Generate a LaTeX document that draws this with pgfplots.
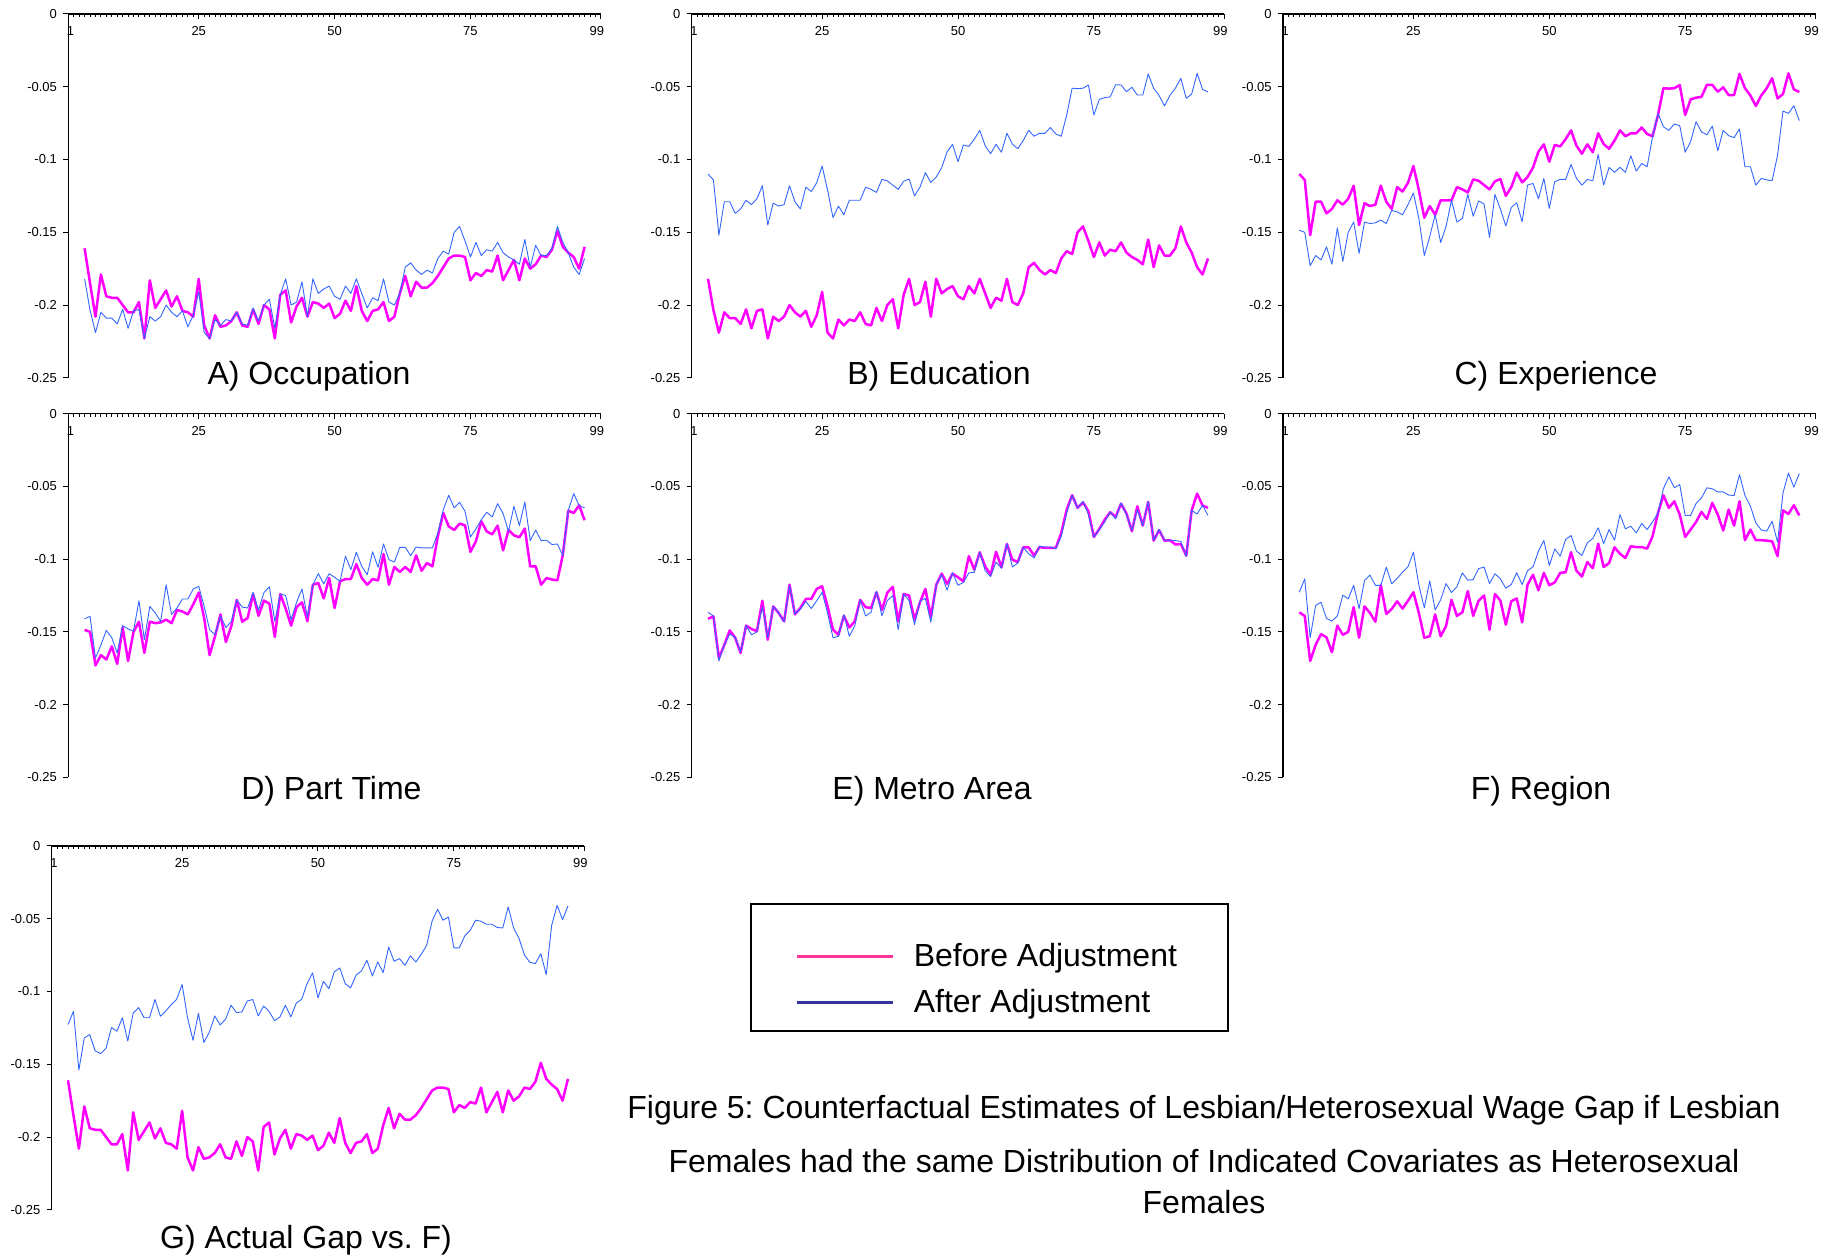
\documentclass[border=0pt]{standalone}
\usepackage{pgfplots}
\usepackage{pgfplotstable}
\pgfplotsset{compat=1.18}
\usepackage{fontspec}
\setmainfont{Liberation Sans}
\frenchspacing

\definecolor{beforeline}{RGB}{255,0,255}
\definecolor{afterline}{RGB}{51,102,255}
\definecolor{legbefore}{RGB}{255,51,153}
\definecolor{legafter}{RGB}{51,51,153}

\newcommand\titlefont{\fontsize{16}{19}\selectfont}
\newcommand\tickfont{\fontsize{6.5}{7.5}\selectfont}

% Estimated wage gap by percentile; s0 = actual gap, s1..s6 = gap after
% successively equalising occupation, education, experience, part time,
% metro area and region.
\pgfplotstableread{
k  s0     s1      s2      s3      s4      s5      s6
4  -0.161 -0.182  -0.110  -0.1486 -0.141  -0.1366 -0.1227
5  -0.185 -0.2035 -0.114  -0.150  -0.1394 -0.139  -0.1136
6  -0.208 -0.219  -0.152  -0.173  -0.168  -0.170  -0.154
7  -0.179 -0.205  -0.129  -0.166  -0.159  -0.159  -0.1319
8  -0.194 -0.209  -0.129  -0.169  -0.149  -0.1515 -0.1296
9  -0.195 -0.209  -0.137  -0.160  -0.154  -0.1538 -0.1408
10 -0.195 -0.213  -0.134  -0.172  -0.1645 -0.164  -0.1426
11 -0.200 -0.203  -0.128  -0.147  -0.1457 -0.1457 -0.139
12 -0.205 -0.216  -0.131  -0.170  -0.148  -0.152  -0.1248
13 -0.205 -0.204  -0.127  -0.150  -0.1495 -0.150  -0.1273
14 -0.198 -0.203  -0.118  -0.143  -0.1286 -0.133  -0.118
15 -0.223 -0.223  -0.145  -0.1645 -0.1554 -0.154  -0.134
16 -0.183 -0.208  -0.130  -0.143  -0.1325 -0.1325 -0.1147
17 -0.202 -0.211  -0.132  -0.144  -0.137  -0.137  -0.111
18 -0.196 -0.208  -0.131  -0.1435 -0.1428 -0.143  -0.118
19 -0.190 -0.200  -0.118  -0.1416 -0.1176 -0.118  -0.118
20 -0.201 -0.205  -0.129  -0.144  -0.138  -0.1377 -0.1055
21 -0.194 -0.208  -0.134  -0.135  -0.1336 -0.1343 -0.117
22 -0.204 -0.204  -0.119  -0.136  -0.1274 -0.129  -0.1133
23 -0.205 -0.215  -0.122  -0.138  -0.1274 -0.134  -0.109
24 -0.208 -0.207  -0.116  -0.131  -0.1205 -0.1286 -0.1053
25 -0.182 -0.191  -0.1045 -0.123  -0.1187 -0.1228 -0.0952
26 -0.214 -0.219  -0.121  -0.1405 -0.1325 -0.137  -0.118
27 -0.223 -0.223  -0.140  -0.166  -0.1485 -0.154  -0.1335
28 -0.207 -0.210  -0.132  -0.153  -0.152  -0.153  -0.115
29 -0.215 -0.214  -0.138  -0.138  -0.139  -0.138  -0.135
30 -0.214 -0.210  -0.128  -0.157  -0.147  -0.153  -0.128
31 -0.211 -0.211  -0.128  -0.146  -0.1428 -0.146  -0.1168
32 -0.205 -0.205  -0.128  -0.128  -0.128  -0.128  -0.123
33 -0.214 -0.213  -0.119  -0.143  -0.133  -0.139  -0.119
34 -0.215 -0.214  -0.1205 -0.1405 -0.1336 -0.1366 -0.1094
35 -0.203 -0.202  -0.1226 -0.124  -0.1228 -0.122  -0.1145
36 -0.213 -0.211  -0.1137 -0.139  -0.135  -0.139  -0.114
37 -0.200 -0.200  -0.1146 -0.1285 -0.123  -0.1285 -0.1065
38 -0.203 -0.196  -0.1176 -0.1306 -0.119  -0.125  -0.1055
39 -0.223 -0.216  -0.1205 -0.1535 -0.1428 -0.1485 -0.1168
40 -0.193 -0.193  -0.115  -0.124  -0.124  -0.124  -0.110
41 -0.190 -0.182  -0.1134 -0.134  -0.125  -0.1285 -0.1136
42 -0.212 -0.200  -0.125  -0.1457 -0.1416 -0.145  -0.120
43 -0.201 -0.198  -0.119  -0.133  -0.1297 -0.129  -0.1175
44 -0.195 -0.184  -0.109  -0.1297 -0.1205 -0.127  -0.1094
45 -0.208 -0.208  -0.1157 -0.1427 -0.1398 -0.1434 -0.1175
46 -0.198 -0.182  -0.112  -0.1176 -0.1176 -0.1176 -0.108
47 -0.199 -0.192  -0.1056 -0.1164 -0.110  -0.1107 -0.1053
48 -0.202 -0.189  -0.0946 -0.127  -0.117  -0.1214 -0.0945
49 -0.199 -0.187  -0.0896 -0.113  -0.110  -0.1095 -0.0872
50 -0.209 -0.194  -0.1015 -0.1336 -0.1125 -0.118  -0.1044
51 -0.206 -0.196  -0.090  -0.1153 -0.1153 -0.116  -0.093
52 -0.197 -0.187  -0.091  -0.1137 -0.098  -0.1095 -0.098
53 -0.204 -0.192  -0.086  -0.1137 -0.1072 -0.109  -0.0865
54 -0.187 -0.182  -0.080  -0.1034 -0.0953 -0.0953 -0.0838
55 -0.204 -0.192  -0.0905 -0.113  -0.105  -0.108  -0.0945
56 -0.211 -0.202  -0.096  -0.1176 -0.1107 -0.112  -0.0975
57 -0.204 -0.195  -0.0896 -0.1137 -0.095  -0.102  -0.0888
58 -0.203 -0.197  -0.095  -0.1146 -0.1056 -0.1063 -0.0858
59 -0.198 -0.182  -0.082  -0.0965 -0.0896 -0.0894 -0.0785
60 -0.211 -0.198  -0.0894 -0.1176 -0.1004 -0.1054 -0.0893
61 -0.208 -0.200  -0.0926 -0.1054 -0.102  -0.1027 -0.0797
62 -0.192 -0.192  -0.087  -0.1088 -0.0919 -0.0919 -0.087
63 -0.180 -0.174  -0.080  -0.1054 -0.0919 -0.0963 -0.0694
64 -0.194 -0.171  -0.084  -0.1088 -0.0976 -0.0992 -0.0792
65 -0.184 -0.176  -0.082  -0.0974 -0.0917 -0.0912 -0.0774
66 -0.188 -0.179  -0.082  -0.108  -0.0923 -0.0917 -0.082
67 -0.188 -0.176  -0.078  -0.1027 -0.0923 -0.0917 -0.0755
68 -0.185 -0.178  -0.0825 -0.105  -0.0923 -0.0928 -0.0797
69 -0.180 -0.168  -0.084  -0.0843 -0.082  -0.0843 -0.0744
70 -0.174 -0.163  -0.0694 -0.0683 -0.066  -0.0683 -0.0682
71 -0.168 -0.165  -0.051  -0.0775 -0.0561 -0.0561 -0.0515
72 -0.166 -0.150  -0.0513 -0.080  -0.0648 -0.0648 -0.0435
73 -0.166 -0.146  -0.051  -0.0756 -0.061  -0.0603 -0.051
74 -0.167 -0.156  -0.0488 -0.0768 -0.0671 -0.0694 -0.0488
75 -0.183 -0.167  -0.0694 -0.095  -0.0848 -0.0848 -0.070
76 -0.178 -0.157  -0.0587 -0.0878 -0.0793 -0.0797 -0.070
77 -0.180 -0.166  -0.0575 -0.074  -0.0729 -0.0745 -0.0618
78 -0.176 -0.162  -0.057  -0.081  -0.0678 -0.0676 -0.058
79 -0.177 -0.163  -0.0486 -0.083  -0.071  -0.0724 -0.051
80 -0.166 -0.157  -0.0488 -0.077  -0.0619 -0.0614 -0.0517
81 -0.183 -0.164  -0.0534 -0.094  -0.0687 -0.0694 -0.0538
82 -0.176 -0.167  -0.0504 -0.080  -0.0809 -0.0804 -0.0538
83 -0.169 -0.169  -0.0557 -0.0836 -0.0637 -0.066  -0.056
84 -0.183 -0.172  -0.0557 -0.085  -0.077  -0.077  -0.0563
85 -0.168 -0.155  -0.0412 -0.079  -0.0607 -0.0603 -0.0419
86 -0.175 -0.174  -0.051  -0.105  -0.0873 -0.087  -0.0563
87 -0.172 -0.159  -0.056  -0.105  -0.080  -0.0797 -0.0636
88 -0.166 -0.166  -0.0632 -0.1176 -0.0873 -0.087  -0.075
89 -0.167 -0.166  -0.056  -0.113  -0.087  -0.087  -0.080
90 -0.162 -0.161  -0.051  -0.114  -0.090  -0.0873 -0.0808
91 -0.149 -0.146  -0.0442 -0.1146 -0.0896 -0.0878 -0.074
92 -0.160 -0.157  -0.058  -0.097  -0.0976 -0.098  -0.0884
93 -0.164 -0.164  -0.055  -0.0667 -0.0665 -0.0665 -0.0545
94 -0.167 -0.174  -0.0408 -0.0683 -0.055  -0.069  -0.0408
95 -0.175 -0.179  -0.0518 -0.063  -0.0632 -0.063  -0.0506
96 -0.160 -0.168  -0.0536 -0.0733 -0.0648 -0.070  -0.0412
}\gaps

\pgfplotsset{
  gappanel/.style={
    scale only axis, width=266.3pt, height=181.9pt,
    xmin=1, xmax=99, ymin=-0.25, ymax=0,
    axis x line*=top, axis y line*=left,
    axis line style={black, line width=0.6pt},
    xtick={1,25,50,75,99},
    xticklabels={\kern2.2pt 1,25,50,75,99\kern4pt},
    minor xtick={2,...,98},
    ytick={-0.25,-0.2,-0.15,-0.1,-0.05,0},
    yticklabels={-0.25,-0.2,-0.15,-0.1,-0.05,0},
    xtick align=inside, ytick align=outside,
    major tick length=2.5pt, minor tick length=1.5pt,
    tick style={black, line width=0.5pt},
    tick label style={font=\tickfont, inner sep=0pt},
    xticklabel shift=-11pt,
    yticklabel shift=3pt,
  },
  before/.style={beforeline, line width=1.25pt, line join=round},
  after/.style={afterline, line width=0.45pt, line join=round},
}

\begin{document}
\begin{tikzpicture}
\useasboundingbox (0,0) rectangle (918.5pt,629pt);

% Row 1
\begin{axis}[gappanel, at={(34.15pt,622pt)}, anchor=north west]
  \addplot[before] table[x=k,y=s0]{\gaps};
  \addplot[after]  table[x=k,y=s1]{\gaps};
\end{axis}
\begin{axis}[gappanel, at={(345.85pt,622pt)}, anchor=north west]
  \addplot[before] table[x=k,y=s1]{\gaps};
  \addplot[after]  table[x=k,y=s2]{\gaps};
\end{axis}
\begin{axis}[gappanel, at={(641.5pt,622pt)}, anchor=north west]
  \addplot[before] table[x=k,y=s2]{\gaps};
  \addplot[after]  table[x=k,y=s3]{\gaps};
\end{axis}

% Row 2
\begin{axis}[gappanel, at={(34.15pt,422.2pt)}, anchor=north west]
  \addplot[before] table[x=k,y=s3]{\gaps};
  \addplot[after]  table[x=k,y=s4]{\gaps};
\end{axis}
\begin{axis}[gappanel, at={(345.85pt,422.2pt)}, anchor=north west]
  \addplot[before] table[x=k,y=s4]{\gaps};
  \addplot[after]  table[x=k,y=s5]{\gaps};
\end{axis}
\begin{axis}[gappanel, at={(641.5pt,422.2pt)}, anchor=north west]
  \addplot[before] table[x=k,y=s5]{\gaps};
  \addplot[after]  table[x=k,y=s6]{\gaps};
\end{axis}

% Row 3 with the shared legend
\begin{axis}[gappanel, at={(25.85pt,206pt)}, anchor=north west,
    legend cell align=left,
    legend image code/.code={\draw[#1] (0pt,0pt) -- (48pt,0pt);},
    legend style={at={(1.3107,0.843)}, anchor=north west,
      draw=black, line width=1pt, inner xsep=22.6pt, inner ysep=7.6pt,
      row sep=10.3pt, column sep=9.4pt, font=\titlefont,
      nodes={inner sep=0pt}}]
  \addplot[before, forget plot] table[x=k,y=s0]{\gaps};
  \addplot[after, forget plot]  table[x=k,y=s6]{\gaps};
  \addlegendimage{empty legend}
  \addlegendentry{}
  \addlegendimage{legbefore, line width=1.5pt}
  \addlegendentry{Before Adjustment\kern3pt}
  \addlegendimage{legafter, line width=1.5pt}
  \addlegendentry{After Adjustment}
\end{axis}

% Panel titles
\node[font=\titlefont, anchor=base] at (154.5pt,436.5pt) {A) Occupation};
\node[font=\titlefont, anchor=base] at (469.5pt,436.5pt) {B) Education};
\node[font=\titlefont, anchor=base] at (778pt,436.5pt) {C) Experience};
\node[font=\titlefont, anchor=base] at (165.7pt,229pt) {D) Part Time};
\node[font=\titlefont, anchor=base] at (466pt,229pt) {E) Metro Area};
\node[font=\titlefont, anchor=base] at (770.5pt,229pt) {F) Region};
\node[font=\titlefont, anchor=base] at (153pt,4.7pt) {G) Actual Gap vs. F)};

% Figure caption
\node[font=\titlefont, anchor=base] at (602pt,69.5pt)
  {Figure 5: Counterfactual Estimates of Lesbian/Heterosexual Wage Gap if Lesbian};
\node[font=\titlefont, anchor=base] at (602pt,42.5pt)
  {Females had the same Distribution of Indicated Covariates as Heterosexual};
\node[font=\titlefont, anchor=base] at (602pt,22pt) {Females};
\end{tikzpicture}
\end{document}
